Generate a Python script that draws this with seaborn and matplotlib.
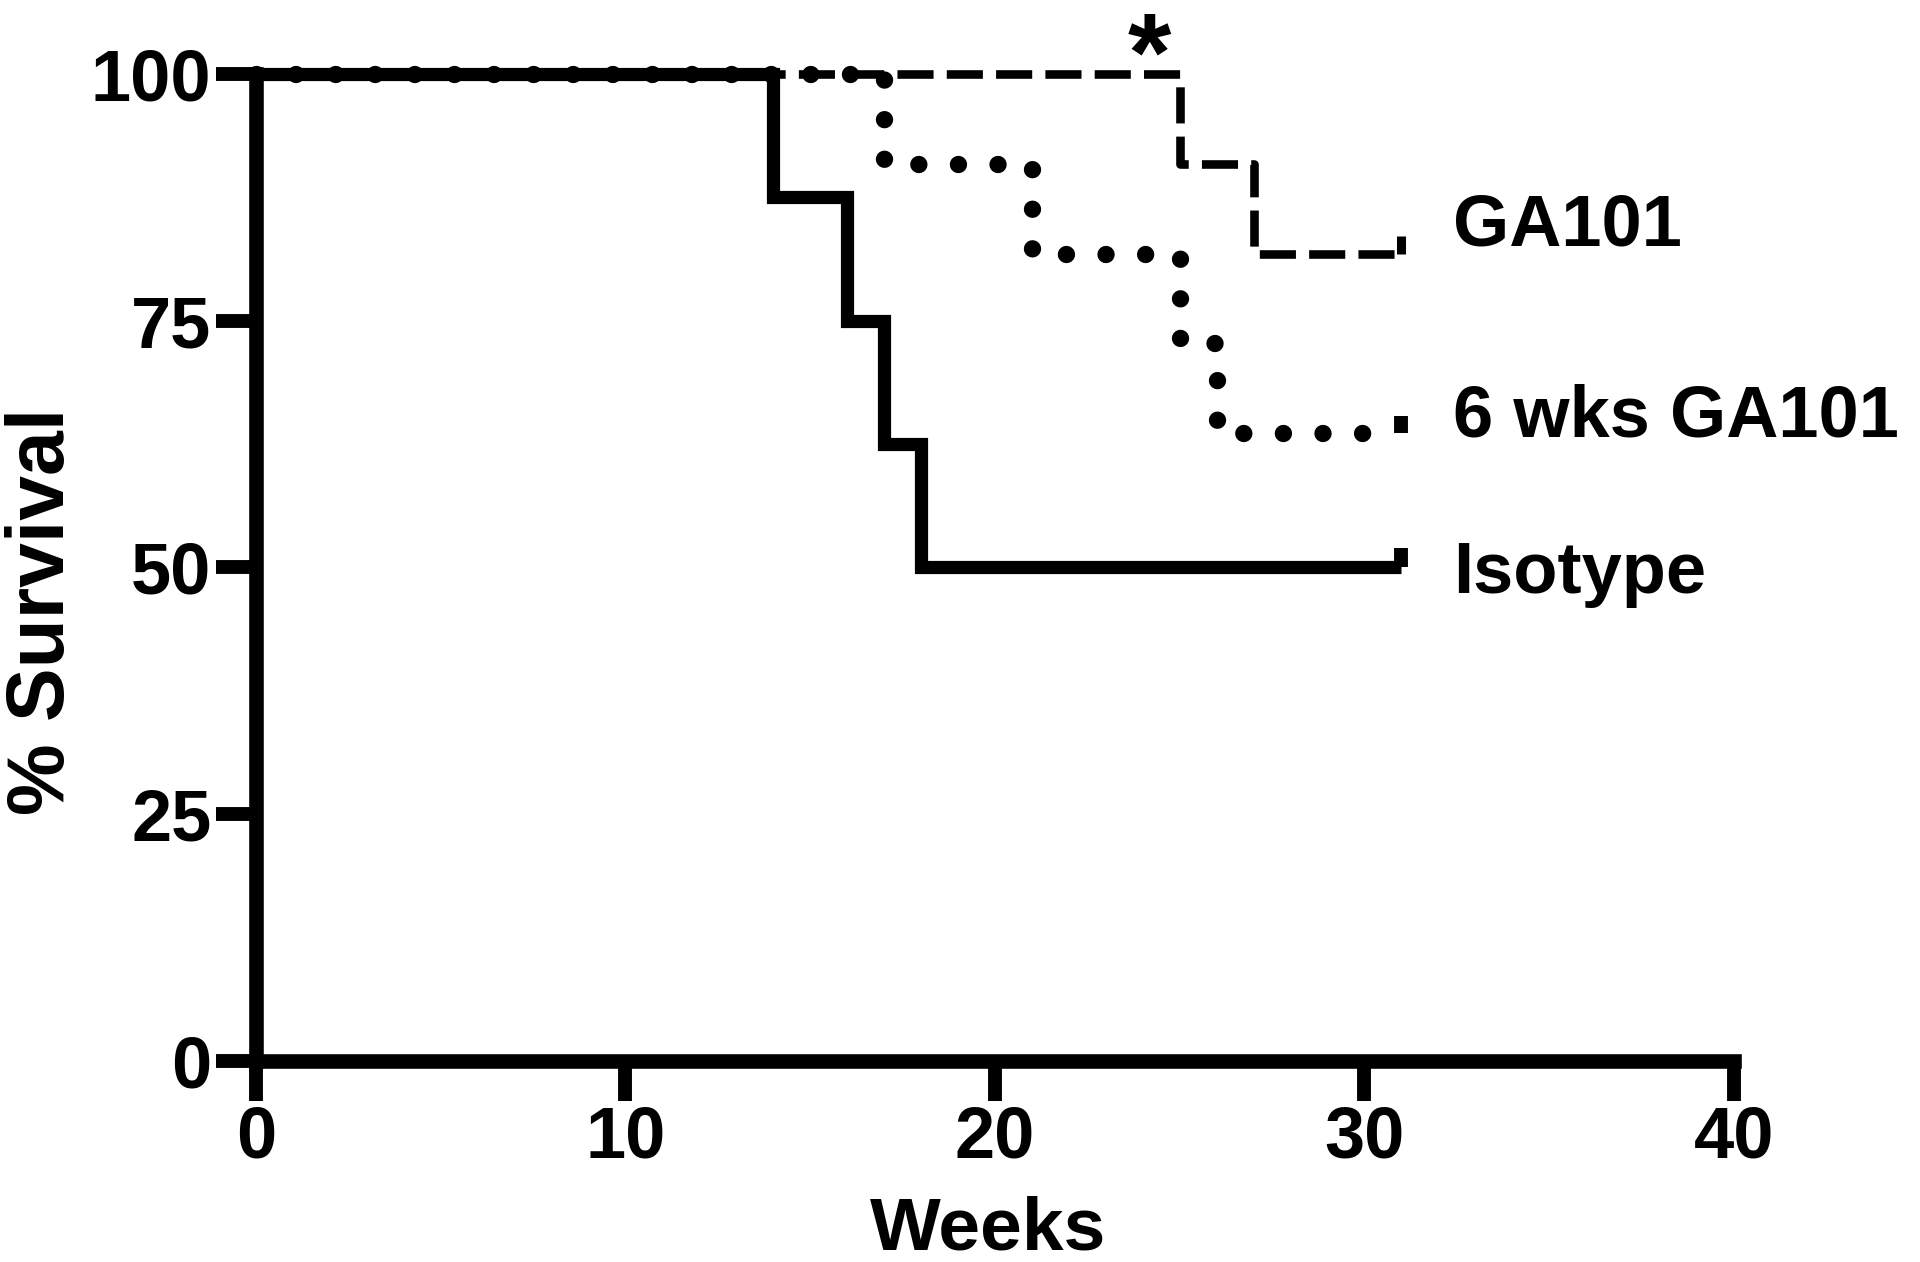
import matplotlib
matplotlib.use("Agg")
import matplotlib.pyplot as plt
import seaborn as sns
import pandas as pd

# ---- data ----
iso_weeks = [0, 14, 16, 17, 18, 31]
iso_surv = [100, 87.5, 75, 62.5, 50, 50]

six_weeks = [0, 17, 21, 25, 26, 31]
six_surv = [100, 90.9, 81.8, 72.7, 63.6, 63.6]

ga_weeks = [0, 25, 27, 31]
ga_surv = [100, 90.9, 81.8, 81.8]

series_labels = ["GA101", "6 wks GA101", "Isotype"]
label_y = [84.5, 65.2, 49.3]
x_ticks = [0, 10, 20, 30, 40]
y_ticks = [0, 25, 50, 75, 100]

sns.set_style("ticks")
plt.rcParams['font.family'] = ['Liberation Sans', 'DejaVu Sans']
plt.rcParams['lines.scale_dashes'] = False
plt.rcParams['text.color'] = 'black'
plt.rcParams['axes.labelcolor'] = 'black'
plt.rcParams['xtick.color'] = 'black'
plt.rcParams['ytick.color'] = 'black'

fig = plt.figure(figsize=(19.2, 12.62), dpi=100)
ax = fig.add_axes([0.1333, 0.1593, 0.7698, 0.7821])

df_iso = pd.DataFrame({"Weeks": iso_weeks, "Survival": iso_surv})
df_six = pd.DataFrame({"Weeks": six_weeks, "Survival": six_surv})
df_ga = pd.DataFrame({"Weeks": ga_weeks, "Survival": ga_surv})

sns.lineplot(data=df_iso, x="Weeks", y="Survival", ax=ax, estimator=None, sort=False,
             drawstyle="steps-post", color="black", linewidth=9.5, clip_on=False,
             solid_joinstyle="miter", solid_capstyle="butt")
sns.lineplot(data=df_six, x="Weeks", y="Survival", ax=ax, estimator=None, sort=False,
             drawstyle="steps-post", color="black", linewidth=12.5, clip_on=False,
             dash_capstyle="round", linestyle=(0, (0.01, 28.5)))
sns.lineplot(data=df_ga, x="Weeks", y="Survival", ax=ax, estimator=None, sort=False,
             drawstyle="steps-post", color="black", linewidth=6.2, clip_on=False,
             linestyle=(0, (26, 9.5)))

# censor ticks at the last point
for w, s, ms, mew in [(iso_weeks, iso_surv, 14, 10), (six_weeks, six_surv, 12, 10),
                      (ga_weeks, ga_surv, 13, 6.5)]:
    ax.plot([w[-1]], [s[-1]], marker=2, markersize=ms, markeredgewidth=mew,
            color="black", clip_on=False, linestyle="none")

ax.set_xlim(0, 40)
ax.set_ylim(0, 100)
ax.set_xticks(x_ticks)
ax.set_yticks(y_ticks)
ax.set_xticklabels([str(t) for t in x_ticks], fontweight="bold", fontsize=52)
ax.set_yticklabels([str(t) for t in y_ticks], fontweight="bold", fontsize=52)
ax.tick_params(axis="x", length=29, width=10, pad=2, color="black")
ax.tick_params(axis="y", length=29, width=10, pad=3, color="black")

for side in ["top", "right"]:
    ax.spines[side].set_visible(False)
for side in ["left", "bottom"]:
    ax.spines[side].set_linewidth(10.5)
    ax.spines[side].set_color("black")
    ax.spines[side].set_capstyle("projecting")

ax.set_xlabel("Weeks", fontsize=54, fontweight="bold", va="center", ha="center")
ax.xaxis.set_label_coords(0.4953, -0.1712)
ax.set_ylabel("% Survival", fontsize=58, fontweight="bold", va="center", ha="center")
ax.yaxis.set_label_coords(-0.1441, 0.455)

for lab, yv in zip(series_labels, label_y):
    ax.text(32.4, yv, lab, fontsize=52, fontweight="bold", va="center", ha="left",
            clip_on=False)

ax.text(24.17, 98.3, "*", fontsize=80, fontweight="bold", va="baseline", ha="center",
        clip_on=False)

fig.savefig("out.png", dpi=100)
